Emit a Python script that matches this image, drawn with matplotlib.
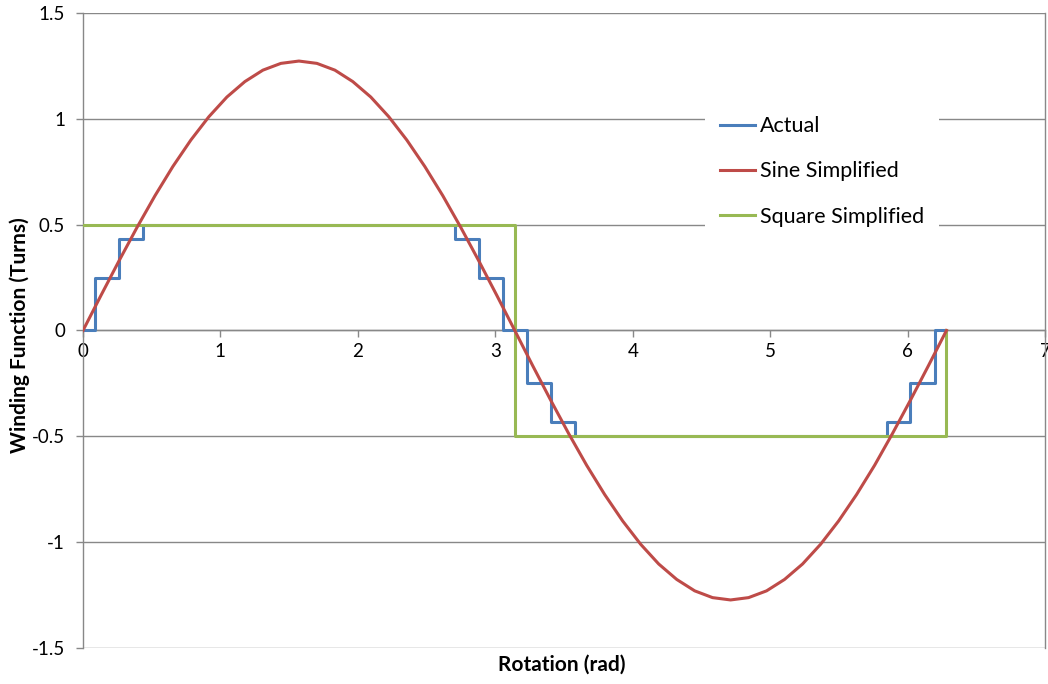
import numpy as np
import matplotlib
matplotlib.use("Agg")
import matplotlib.pyplot as plt

plt.rcParams['font.family'] = ['Lato', 'DejaVu Sans']

# Actual winding function (stepped)
actual_x = [0, 0.087, 0.262, 0.436, 2.705, 2.880, 3.054, 3.229, 3.403, 3.578, 5.847, 6.021, 6.196, 6.283]
actual_y = [0, 0.25, 0.433, 0.5, 0.433, 0.25, 0, -0.25, -0.433, -0.5, -0.433, -0.25, 0, 0]

# Sine simplified
sine_x = [0.000, 0.131, 0.262, 0.393, 0.524, 0.654, 0.785, 0.916, 1.047, 1.178, 1.309, 1.440,
          1.571, 1.702, 1.833, 1.963, 2.094, 2.225, 2.356, 2.487, 2.618, 2.749, 2.880, 3.011,
          3.142, 3.272, 3.403, 3.534, 3.665, 3.796, 3.927, 4.058, 4.189, 4.320, 4.451, 4.581,
          4.712, 4.843, 4.974, 5.105, 5.236, 5.367, 5.498, 5.629, 5.760, 5.890, 6.021, 6.152, 6.283]
sine_y = [0.000, 0.166, 0.329, 0.487, 0.637, 0.775, 0.900, 1.010, 1.103, 1.176, 1.230, 1.262,
          1.273, 1.262, 1.230, 1.176, 1.103, 1.010, 0.900, 0.775, 0.637, 0.487, 0.329, 0.166,
          0.000, -0.166, -0.329, -0.487, -0.637, -0.775, -0.900, -1.010, -1.103, -1.176, -1.230, -1.262,
          -1.273, -1.262, -1.230, -1.176, -1.103, -1.010, -0.900, -0.775, -0.637, -0.487, -0.329, -0.166, 0.000]

# Square simplified
square_x = [0, 3.1416, 3.1416, 6.283, 6.283]
square_y = [0.5, 0.5, -0.5, -0.5, 0]

x_ticks = [0, 1, 2, 3, 4, 5, 6, 7]
y_ticks = [-1.5, -1, -0.5, 0, 0.5, 1, 1.5]
y_tick_labels = ['-1.5', '-1', '-0.5', '0', '0.5', '1', '1.5']

blue = '#4A7EBB'
red = '#BE4B48'
green = '#98B954'
gray = '#888888'

fig = plt.figure(figsize=(10.48, 6.84), dpi=100)
ax = fig.add_axes([83/1048, 1-648/684, (1045-83)/1048, (648-13)/684])

ax.plot(actual_x, actual_y, drawstyle='steps-post', color=blue, lw=2.2, label='Actual', zorder=3)
ax.plot(sine_x, sine_y, color=red, lw=2.2, label='Sine Simplified', zorder=4)
ax.plot(square_x, square_y, color=green, lw=2.2, label='Square Simplified', zorder=3)

ax.set_xlim(0, 7)
ax.set_ylim(-1.5, 1.5)
ax.set_xticks(x_ticks)
ax.set_yticks(y_ticks)
ax.set_yticklabels(y_tick_labels)
ax.yaxis.grid(True, color=gray, lw=1.0)
ax.set_axisbelow(True)

ax.spines['bottom'].set_position(('data', 0))
for s in ['left', 'bottom', 'right', 'top']:
    ax.spines[s].set_color(gray)
    ax.spines[s].set_linewidth(1.0)
ax.spines['top'].set_visible(False)

ax.tick_params(axis='both', colors=gray, labelcolor='black', labelsize=13.5, length=5, width=1.0)
ax.tick_params(axis='y', pad=8)
ax.tick_params(axis='x', pad=4)

fig.text(20/1048, 1-335/684, 'Winding Function (Turns)', rotation=90, ha='center', va='center',
         fontsize=15, fontweight='bold')
fig.text(562/1048, 1-665/684, 'Rotation (rad)', ha='center', va='center', fontsize=15, fontweight='bold')

leg = ax.legend(loc='upper left', bbox_to_anchor=(705/1048, 1-101/684), bbox_transform=fig.transFigure,
                frameon=True, fontsize=15.5, handlelength=1.6, handletextpad=0.25, labelspacing=1.18,
                borderpad=0.7, borderaxespad=0)
leg.get_frame().set_edgecolor('none')
leg.get_frame().set_facecolor('white')
leg.get_frame().set_alpha(1.0)
leg.get_frame().set_boxstyle('square', pad=0)
for t in leg.get_texts():
    t.set_color('black')

fig.savefig('out.png', dpi=100)
